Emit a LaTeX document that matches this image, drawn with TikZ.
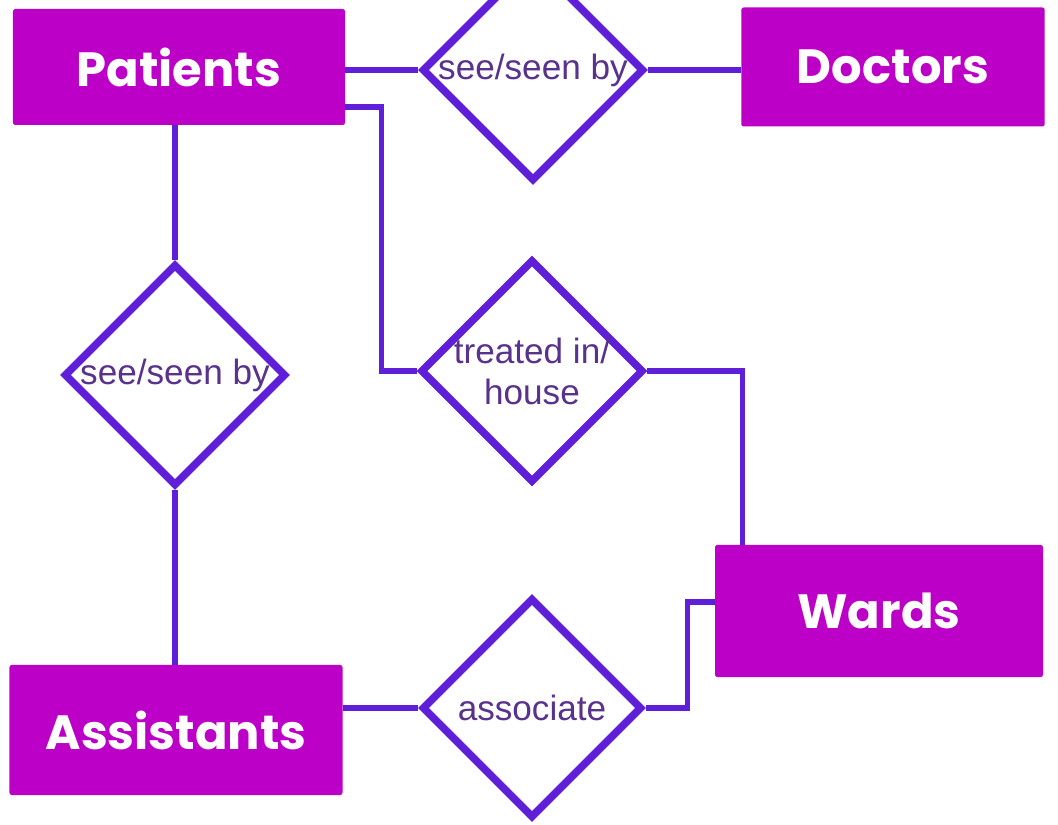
\documentclass[tikz,border=0pt]{standalone}
\usepackage{fontspec}
\setmainfont{Liberation Sans}
\newfontfamily\entfont{Poppins}
\usetikzlibrary{shapes.geometric}
\definecolor{boxcol}{RGB}{188,0,200}
\definecolor{linecol}{RGB}{95,30,215}
\definecolor{relcol}{RGB}{88,50,140}
\tikzset{
  entity/.style={fill=boxcol, rounded corners=2pt, text=white, inner sep=0pt,
    font=\entfont\bfseries\fontsize{41}{48}\selectfont},
  relation/.style={diamond, draw=linecol, line width=6.5pt, fill=white, aspect=1,
    inner sep=0pt, minimum width=6.6cm, minimum height=6.6cm, text=relcol,
    align=center, font=\fontsize{30}{35}\selectfont},
  link/.style={draw=linecol, line width=4.5pt}
}
\begin{document}
\begin{tikzpicture}[x=0.03cm, y=-0.03cm]
\useasboundingbox (0,0) rectangle (1058,825);
\node (patients) at (179,67) [entity, minimum width=9.96cm, minimum height=3.48cm] {Patients};
\node (doctors) at (893,67) [entity, minimum width=9.1cm, minimum height=3.57cm] {Doctors};
\node (wards) at (879,611) [entity, minimum width=9.84cm, minimum height=3.96cm] {Wards};
\node (assistants) at (176,730) [entity, minimum width=9.99cm, minimum height=3.9cm] {Assistants};
\node (seeA) at (533,70) [relation] {see/seen by};
\node (seeB) at (175,375) [relation] {see/seen by};
\node (treat) at (532,371) [relation] {treated in/\\house};
\node (assoc) at (532,708) [relation] {associate};
\draw[link] (patients.east |- seeA.west) -- (seeA.west);
\draw[link] (seeA.east) -- (seeA.east -| doctors.west);
\draw[link] ([yshift=-1.2cm]patients.east) -| ++(36,0) |- (treat.west);
\draw[link] (treat.east) -| ([xshift=0.84cm]wards.north west);
\draw[link] (seeB.north |- patients.south) -- (seeB.north);
\draw[link] (seeB.south) -- (seeB.south |- assistants.north);
\draw[link] (assistants.east |- assoc.west) -- (assoc.west);
\draw[link] (assoc.east) -- ++(42,0) |- ([yshift=0.27cm]wards.west);
\end{tikzpicture}
\end{document}
